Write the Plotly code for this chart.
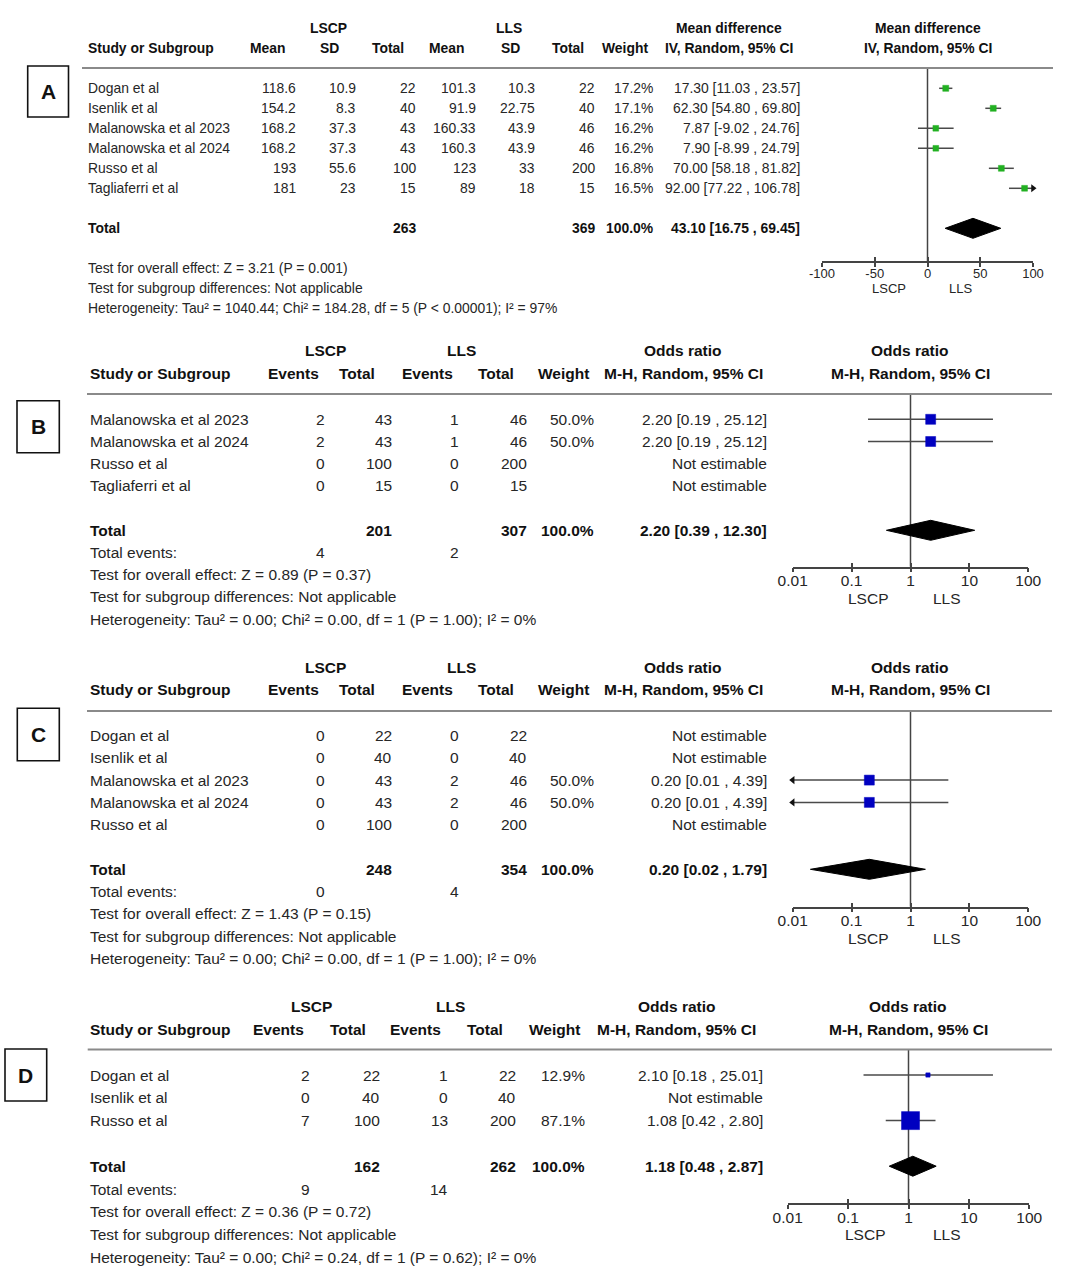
import plotly.graph_objects as go

W, H = 1080, 1273
FONT = "Arial, 'Liberation Sans', sans-serif"

# ---------------- DATA ----------------
# Panel A: continuous outcome, mean difference
studies_A = ["Dogan et al", "Isenlik et al", "Malanowska et al 2023",
             "Malanowska et al 2024", "Russo et al", "Tagliaferri et al"]
lscp_mean_A = ["118.6", "154.2", "168.2", "168.2", "193", "181"]
lscp_sd_A = ["10.9", "8.3", "37.3", "37.3", "55.6", "23"]
lscp_n_A = [22, 40, 43, 43, 100, 15]
lls_mean_A = ["101.3", "91.9", "160.33", "160.3", "123", "89"]
lls_sd_A = ["10.3", "22.75", "43.9", "43.9", "33", "18"]
lls_n_A = [22, 40, 46, 46, 200, 15]
weight_A = [17.2, 17.1, 16.2, 16.2, 16.8, 16.5]
est_A = [17.30, 62.30, 7.87, 7.90, 70.00, 92.00]
lo_A = [11.03, 54.80, -9.02, -8.99, 58.18, 77.22]
hi_A = [23.57, 69.80, 24.76, 24.79, 81.82, 106.78]
total_A = dict(n1=263, n2=369, est=43.10, lo=16.75, hi=69.45)
tests_A = ["Test for overall effect: Z = 3.21 (P = 0.001)",
           "Test for subgroup differences: Not applicable",
           "Heterogeneity: Tau² = 1040.44; Chi² = 184.28, df = 5 (P < 0.00001); I² = 97%"]
ticks_A = [-100, -50, 0, 50, 100]

# Panel B
studies_B = ["Malanowska et al 2023", "Malanowska et al 2024", "Russo et al", "Tagliaferri et al"]
ev_lscp_B = [2, 2, 0, 0]
n_lscp_B = [43, 43, 100, 15]
ev_lls_B = [1, 1, 0, 0]
n_lls_B = [46, 46, 200, 15]
weight_B = [50.0, 50.0, None, None]
est_B = [2.20, 2.20, None, None]
lo_B = [0.19, 0.19, None, None]
hi_B = [25.12, 25.12, None, None]
total_B = dict(n1=201, n2=307, ev1=4, ev2=2, est=2.20, lo=0.39, hi=12.30)
tests_B = ["Test for overall effect: Z = 0.89 (P = 0.37)",
           "Test for subgroup differences: Not applicable",
           "Heterogeneity: Tau² = 0.00; Chi² = 0.00, df = 1 (P = 1.00); I² = 0%"]

# Panel C
studies_C = ["Dogan et al", "Isenlik et al", "Malanowska et al 2023",
             "Malanowska et al 2024", "Russo et al"]
ev_lscp_C = [0, 0, 0, 0, 0]
n_lscp_C = [22, 40, 43, 43, 100]
ev_lls_C = [0, 0, 2, 2, 0]
n_lls_C = [22, 40, 46, 46, 200]
weight_C = [None, None, 50.0, 50.0, None]
est_C = [None, None, 0.20, 0.20, None]
lo_C = [None, None, 0.01, 0.01, None]
hi_C = [None, None, 4.39, 4.39, None]
total_C = dict(n1=248, n2=354, ev1=0, ev2=4, est=0.20, lo=0.02, hi=1.79)
tests_C = ["Test for overall effect: Z = 1.43 (P = 0.15)",
           "Test for subgroup differences: Not applicable",
           "Heterogeneity: Tau² = 0.00; Chi² = 0.00, df = 1 (P = 1.00); I² = 0%"]

# Panel D
studies_D = ["Dogan et al", "Isenlik et al", "Russo et al"]
ev_lscp_D = [2, 0, 7]
n_lscp_D = [22, 40, 100]
ev_lls_D = [1, 0, 13]
n_lls_D = [22, 40, 200]
weight_D = [12.9, None, 87.1]
est_D = [2.10, None, 1.08]
lo_D = [0.18, None, 0.42]
hi_D = [25.01, None, 2.80]
total_D = dict(n1=162, n2=262, ev1=9, ev2=14, est=1.18, lo=0.48, hi=2.87)
tests_D = ["Test for overall effect: Z = 0.36 (P = 0.72)",
           "Test for subgroup differences: Not applicable",
           "Heterogeneity: Tau² = 0.00; Chi² = 0.24, df = 1 (P = 0.62); I² = 0%"]

ticks_OR = [0.01, 0.1, 1, 10, 100]
tick_text_OR = ["0.01", "0.1", "1", "10", "100"]

# ---------------- LAYOUT HELPERS ----------------
annotations, shapes, traces = [], [], []
layout_axes = {}
TXT = "#262626"
BLK = "#111111"


def add_text(x, y, s, anchor="left", size=13, bold=False, color=TXT):
    if bold:
        s = f"<b>{s}</b>"
        color = BLK
    annotations.append(dict(x=x / W, y=1 - y / H, xref="paper", yref="paper", text=s,
                            showarrow=False, xanchor=anchor, yanchor="middle",
                            font=dict(size=size, color=color, family=FONT)))


def add_box(x0, y0, x1, y1, letter):
    shapes.append(dict(type="rect", xref="paper", yref="paper", x0=x0 / W, x1=x1 / W,
                       y0=1 - y1 / H, y1=1 - y0 / H, line=dict(color="#111", width=1.6)))
    add_text((x0 + x1) / 2, (y0 + y1) / 2, letter, anchor="center", size=21, bold=True)


def add_hline(x0, x1, y):
    shapes.append(dict(type="line", xref="paper", yref="paper", x0=x0 / W, x1=x1 / W,
                       y0=1 - y / H, y1=1 - y / H, line=dict(color="#8a8a8a", width=2)))


def fmt_num(v):
    return f"{v:.2f}"


def forest(k, g, est, lo, hi, weights, tot, total_row, logx, ticks, ticktext,
           mcolor, smax, ref):
    xa = "x" if k == 1 else f"x{k}"
    ya = "y" if k == 1 else f"y{k}"
    xo = f"x{k + 4}"
    top_u = (g["top"] - g["row0"]) / g["dy"]
    bot_u = (g["axis"] - g["row0"]) / g["dy"]
    xmin, xmax = ticks[0], ticks[-1]
    axtype = "log" if logx else "linear"
    rng = [-2, 2] if logx else [xmin, xmax]
    common = dict(domain=[g["x0"] / W, g["x1"] / W], range=rng, type=axtype,
                  showgrid=False, zeroline=False, fixedrange=True, automargin=False)
    layout_axes["xaxis" if k == 1 else f"xaxis{k}"] = dict(
        common, anchor=ya, showline=True, linecolor="#444", linewidth=1.5,
        ticks="outside", ticklen=4, tickwidth=1.5, tickcolor="#444",
        tickvals=ticks, ticktext=ticktext, ticklabelstandoff=g["tls"],
        tickfont=dict(size=g["tfs"], color=TXT, family=FONT))
    layout_axes[f"xaxis{k + 4}"] = dict(
        common, anchor=ya, overlaying=xa, showline=False, ticks="inside", ticklen=4,
        tickwidth=1.5, tickcolor="#444", tickvals=ticks, showticklabels=False)
    layout_axes["yaxis" if k == 1 else f"yaxis{k}"] = dict(
        domain=[1 - g["axis"] / H, 1 - g["top"] / H], range=[bot_u, top_u],
        visible=False, fixedrange=True, automargin=False, anchor=xa)
    traces.append(go.Scatter(x=[None], y=[None], xaxis=xo, yaxis=ya, showlegend=False,
                             hoverinfo="skip"))
    # reference line
    traces.append(go.Scatter(x=[ref, ref], y=[top_u, bot_u], mode="lines", xaxis=xa, yaxis=ya,
                             line=dict(color="#444", width=1.5), showlegend=False,
                             hoverinfo="skip"))
    wvals = [w for w in weights if w is not None]
    wmax = max(wvals)
    for i, (e, l, h, w) in enumerate(zip(est, lo, hi, weights)):
        if e is None:
            continue
        ld, hd = max(l, xmin), min(h, xmax)
        traces.append(go.Scatter(x=[ld, hd], y=[i, i], mode="lines", xaxis=xa, yaxis=ya,
                                 line=dict(color="#4a4a4a", width=1.5), showlegend=False,
                                 hoverinfo="skip"))
        size = max(4, smax * (w / wmax) ** 0.75)
        traces.append(go.Scatter(x=[e], y=[i], mode="markers", xaxis=xa, yaxis=ya,
                                 marker=dict(symbol="square", size=size, color=mcolor,
                                             line=dict(color=mcolor, width=0.5)),
                                 showlegend=False, cliponaxis=False,
                                 hovertemplate=f"{e} [{l}, {h}]<extra></extra>"))
        if l <= xmin:
            traces.append(go.Scatter(x=[xmin], y=[i], mode="markers", xaxis=xa, yaxis=ya,
                                     marker=dict(symbol="triangle-left", size=7, color="#111"),
                                     showlegend=False, cliponaxis=False, hoverinfo="skip"))
        if h >= xmax:
            traces.append(go.Scatter(x=[xmax], y=[i], mode="markers", xaxis=xa, yaxis=ya,
                                     marker=dict(symbol="triangle-right", size=7, color="#111"),
                                     showlegend=False, cliponaxis=False, hoverinfo="skip"))
    # diamond
    hh = 10 / g["dy"]
    r = total_row
    traces.append(go.Scatter(x=[tot["lo"], tot["est"], tot["hi"], tot["est"], tot["lo"]],
                             y=[r, r - hh, r, r + hh, r], mode="lines", fill="toself",
                             fillcolor="#000", line=dict(color="#000", width=1),
                             xaxis=xa, yaxis=ya, showlegend=False, hoverinfo="skip"))


def ry(g, i):
    return g["row0"] + g["dy"] * i


# ---------------- PANEL A ----------------
gA = dict(row0=88.3, dy=20.0, top=68.0, axis=261.0, x0=822.0, x1=1033.0, fs=13.9,
          tfs=13, tls=-4)
fs = gA["fs"]
nameA = 86
add_box(27.7, 66, 68.5, 117, "A")
add_hline(82, 1053, gA["top"])
h1, h2 = gA["row0"] - 60, gA["row0"] - 40
for x, s in [(328.3, "LSCP"), (509.3, "LLS"), (728.8, "Mean difference"),
             (927.5, "Mean difference")]:
    add_text(x, h1, s, "center", fs, True)
add_text(nameA, h2, "Study or Subgroup", "left", fs, True)
colsA = [(268.3, 298.3, "Mean"), (329.3, 358.3, "SD"), (388.3, 418.3, "Total"),
         (447.3, 478.3, "Mean"), (510, 537.3, "SD"), (568.3, 597.3, "Total"),
         (625, 654.6, "Weight"), (728.8, 801.9, "IV, Random, 95% CI")]
for cx, _, s in colsA:
    add_text(cx, h2, s, "center", fs, True)
add_text(927.5, h2, "IV, Random, 95% CI", "center", fs, True)
for i, name in enumerate(studies_A):
    y = ry(gA, i)
    add_text(nameA, y, name, "left", fs)
    vals = [lscp_mean_A[i], lscp_sd_A[i], str(lscp_n_A[i]), lls_mean_A[i], lls_sd_A[i],
            str(lls_n_A[i]), f"{weight_A[i]:.1f}%",
            f"{fmt_num(est_A[i])} [{fmt_num(lo_A[i])} , {fmt_num(hi_A[i])}]"]
    for (_, rx, _), v in zip(colsA, vals):
        add_text(rx, y, v, "right", fs)
yT = ry(gA, 7)
add_text(nameA, yT, "Total", "left", fs, True)
add_text(colsA[2][1], yT, str(total_A["n1"]), "right", fs, True)
add_text(colsA[5][1], yT, str(total_A["n2"]), "right", fs, True)
add_text(colsA[6][1], yT, "100.0%", "right", fs, True)
add_text(colsA[7][1], yT,
         f"{fmt_num(total_A['est'])} [{fmt_num(total_A['lo'])} , {fmt_num(total_A['hi'])}]",
         "right", fs, True)
for j, s in enumerate(tests_A):
    add_text(nameA, ry(gA, 9 + j), s, "left", fs)
add_text(888.5, gA["axis"] + 27.5, "LSCP", "center", 13)
add_text(960.3, gA["axis"] + 27.5, "LLS", "center", 13)
forest(1, gA, est_A, lo_A, hi_A, weight_A, total_A, 7, False, ticks_A,
       ["-100", "-50", "0", "50", "100"], "#22b022", 6, 0)


# ---------------- PANELS B, C, D ----------------
def or_panel(k, g, box, letter, line_x, name_x, cols, grp, right_x, lab_x,
             studies, ev1, n1, ev2, n2, weights, est, lo, hi, tot, tests):
    fs = g["fs"]
    add_box(*box, letter)
    add_hline(line_x[0], line_x[1], g["top"])
    h1, h2 = g["row0"] - 68.5, g["row0"] - 46
    add_text(grp[0], h1, "LSCP", "center", fs, True)
    add_text(grp[1], h1, "LLS", "center", fs, True)
    add_text(grp[2], h1, "Odds ratio", "center", fs, True)
    add_text(right_x, h1, "Odds ratio", "center", fs, True)
    add_text(name_x, h2, "Study or Subgroup", "left", fs, True)
    heads = ["Events", "Total", "Events", "Total", "Weight", "M-H, Random, 95% CI"]
    for (cx, _), s in zip(cols, heads):
        add_text(cx, h2, s, "center", fs, True)
    add_text(right_x, h2, "M-H, Random, 95% CI", "center", fs, True)
    for i, name in enumerate(studies):
        y = ry(g, i)
        add_text(name_x, y, name, "left", fs)
        w = "" if weights[i] is None else f"{weights[i]:.1f}%"
        ci = ("Not estimable" if est[i] is None else
              f"{fmt_num(est[i])} [{fmt_num(lo[i])} , {fmt_num(hi[i])}]")
        vals = [str(ev1[i]), str(n1[i]), str(ev2[i]), str(n2[i]), w, ci]
        for (_, rx), v in zip(cols, vals):
            if v:
                add_text(rx, y, v, "right", fs)
    tr = len(studies) + 1
    yT = ry(g, tr)
    add_text(name_x, yT, "Total", "left", fs, True)
    add_text(cols[1][1], yT, str(tot["n1"]), "right", fs, True)
    add_text(cols[3][1], yT, str(tot["n2"]), "right", fs, True)
    add_text(cols[4][1], yT, "100.0%", "right", fs, True)
    add_text(cols[5][1], yT, f"{fmt_num(tot['est'])} [{fmt_num(tot['lo'])} , {fmt_num(tot['hi'])}]",
             "right", fs, True)
    yE = ry(g, tr + 1)
    add_text(name_x, yE, "Total events:", "left", fs)
    add_text(cols[0][1], yE, str(tot["ev1"]), "right", fs)
    add_text(cols[2][1], yE, str(tot["ev2"]), "right", fs)
    for j, s in enumerate(tests):
        add_text(name_x, ry(g, tr + 2 + j), s, "left", fs)
    add_text(lab_x[0], g["axis"] + 31.6, "LSCP", "center", fs)
    add_text(lab_x[1], g["axis"] + 31.6, "LLS", "center", fs)
    smax = 18 if k == 4 else 10
    forest(k, g, est, lo, hi, weights, tot, tr, True, ticks_OR, tick_text_OR,
           "#0000c0", smax, 1)


colsBC = [(293, 326.7), (357, 394), (427.7, 461), (495.5, 529), (563, 596), (683, 769.3)]
gB = dict(row0=419.3, dy=22.2, top=394.0, axis=566.7, x0=792.7, x1=1028.3, fs=15.5,
          tfs=15.5, tls=-5)
or_panel(2, gB, (17, 400.7, 59.3, 452.7), "B", (87, 1052), 87.7, colsBC, (325, 461.7, 683),
         910, (868.3, 946.7), studies_B, ev_lscp_B, n_lscp_B, ev_lls_B, n_lls_B,
         weight_B, est_B, lo_B, hi_B, total_B, tests_B)

gC = dict(row0=735.5, dy=22.3, top=711.0, axis=906.7, x0=792.7, x1=1028.3, fs=15.5,
          tfs=15.5, tls=-5)
or_panel(3, gC, (17.3, 708.3, 59.3, 760.7), "C", (87, 1052), 87.7, colsBC, (325, 461.7, 683),
         910, (868.3, 946.7), studies_C, ev_lscp_C, n_lscp_C, ev_lls_C, n_lls_C,
         weight_C, est_C, lo_C, hi_C, total_C, tests_C)

colsD = [(278, 312.3), (347.5, 381.7), (415.8, 450), (485, 518.3), (554, 587.3), (676.7, 765)]
gD = dict(row0=1075.0, dy=22.8, top=1049.5, axis=1203.3, x0=787.7, x1=1029.3, fs=15.5,
          tfs=15.5, tls=-5)
or_panel(4, gD, (5, 1049, 46.7, 1101), "D", (87.7, 1052), 88.3, colsD, (311.7, 450.7, 676.7),
         908, (865, 946.7), studies_D, ev_lscp_D, n_lscp_D, ev_lls_D, n_lls_D,
         weight_D, est_D, lo_D, hi_D, total_D, tests_D)

fig = go.Figure(data=traces)
fig.update_layout(template="none", width=W, height=H, autosize=False,
                  margin=dict(l=0, r=0, t=0, b=0, pad=0, autoexpand=False),
                  paper_bgcolor="white", plot_bgcolor="rgba(0,0,0,0)",
                  annotations=annotations, shapes=shapes, showlegend=False,
                  font=dict(family=FONT), **layout_axes)
fig.write_html("out.html", config={"displayModeBar": False},
               post_script="document.body.style.margin='0';")
